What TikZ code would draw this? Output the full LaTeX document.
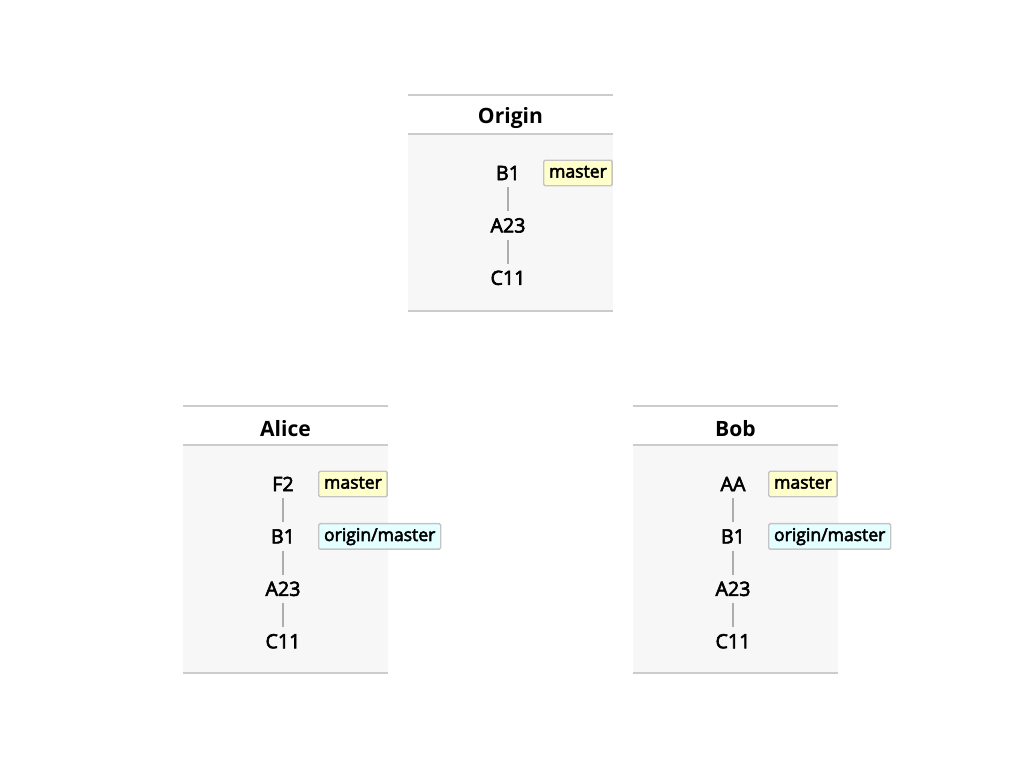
\documentclass[tikz,border=0pt]{standalone}
\usepackage{fontspec}
\setmainfont{Open Sans}
\newfontfamily\semibold{Open Sans}[FakeBold=3]
\usetikzlibrary{positioning}
\definecolor{rulegray}{HTML}{CCCCCC}
\definecolor{panelgray}{HTML}{F7F7F7}
\definecolor{tagborder}{HTML}{C4C4C4}
\definecolor{tagyellow}{HTML}{FFFFCC}
\definecolor{tagcyan}{HTML}{E3FFFF}
\tikzstyle{panel} = [fill=panelgray, draw=none]
\tikzstyle{rule} = [draw=rulegray, line width=1.5pt]
\tikzstyle{title} = [font=\fontsize{15}{18}\selectfont\bfseries]
\tikzstyle{commit} = [font=\fontsize{14}{16}\selectfont\semibold, inner sep=0pt, minimum height=0.7cm, text height=10pt, text depth=0pt]
\tikzstyle{link} = [draw=rulegray!85!black, line width=1.3pt]
\tikzstyle{tag} = [draw=tagborder, line width=1pt, rounded corners=1pt, font=\fontsize{12.5}{14}\selectfont\semibold, inner xsep=3.8pt, minimum height=0.62cm, text height=9pt, text depth=2.5pt, anchor=west]
\tikzstyle{local} = [tag, fill=tagyellow]
\tikzstyle{remote} = [tag, fill=tagcyan]

\begin{document}
\begin{tikzpicture}[x=0.025cm, y=-0.025cm, node distance=1.31cm]
    \useasboundingbox (0,0) rectangle (1024,768);

    % Origin
    \fill[panel] (408,134) rectangle (613,311);
    \draw[rule] (408,95) -- (613,95);
    \draw[rule] (408,134) -- (613,134);
    \draw[rule] (408,311) -- (613,311);
    \node[title] (origin) at (510.5,118) {Origin};
    \node[commit] (ob1) at (508,173) {B1};
    \node[commit, below of=ob1] (oa23) {A23};
    \node[commit, below of=oa23] (oc11) {C11};
    \node[local] (omaster) at ([xshift=0.875cm]ob1) {master};

    % Alice
    \fill[panel] (183,445) rectangle (388,673);
    \draw[rule] (183,406) -- (388,406);
    \draw[rule] (183,445) -- (388,445);
    \draw[rule] (183,673) -- (388,673);
    \node[title] (alice) at (285.5,429) {Alice};
    \node[commit] (af2) at (283,484) {F2};
    \node[commit, below of=af2] (ab1) {B1};
    \node[commit, below of=ab1] (aa23) {A23};
    \node[commit, below of=aa23] (ac11) {C11};
    \node[local] (amaster) at ([xshift=0.875cm]af2) {master};
    \node[remote] (aorigin) at ([xshift=0.875cm]ab1) {origin/master};

    % Bob
    \fill[panel] (633,445) rectangle (838,673);
    \draw[rule] (633,406) -- (838,406);
    \draw[rule] (633,445) -- (838,445);
    \draw[rule] (633,673) -- (838,673);
    \node[title] (bob) at (735.5,429) {Bob};
    \node[commit] (baa) at (733,484) {AA};
    \node[commit, below of=baa] (bb1) {B1};
    \node[commit, below of=bb1] (ba23) {A23};
    \node[commit, below of=ba23] (bc11) {C11};
    \node[local] (bmaster) at ([xshift=0.875cm]baa) {master};
    \node[remote] (borigin) at ([xshift=0.875cm]bb1) {origin/master};

    % history
    \draw[link] (ob1) -- (oa23);
    \draw[link] (oa23) -- (oc11);
    \draw[link] (af2) -- (ab1);
    \draw[link] (ab1) -- (aa23);
    \draw[link] (aa23) -- (ac11);
    \draw[link] (baa) -- (bb1);
    \draw[link] (bb1) -- (ba23);
    \draw[link] (ba23) -- (bc11);
\end{tikzpicture}
\end{document}
